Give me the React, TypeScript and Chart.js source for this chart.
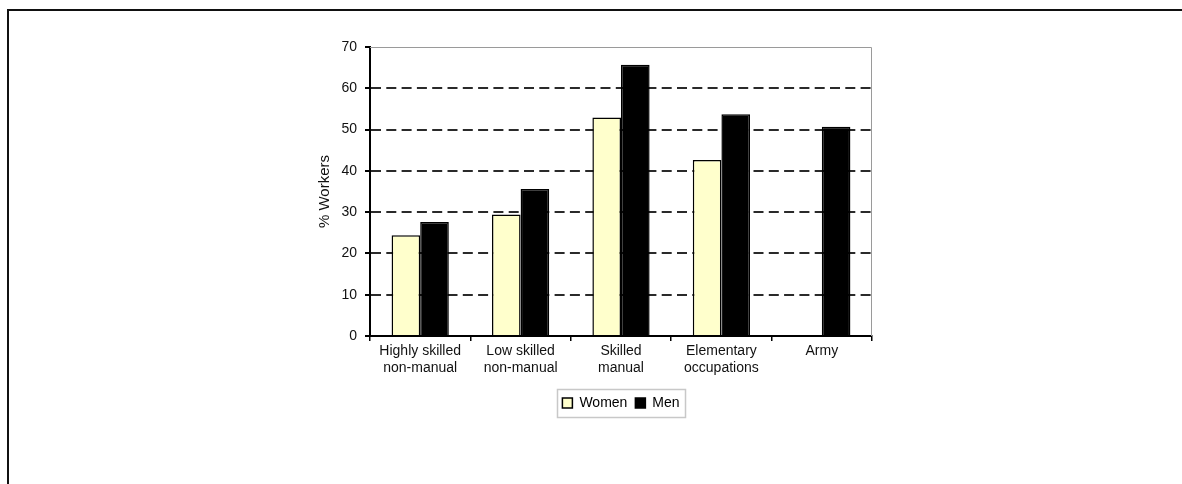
import React, { useEffect, useRef } from 'react';
import { Chart, registerables } from 'chart.js';

Chart.register(...registerables);

// Occupation groups (multi-line tick labels)
const categories: string[][] = [
  ['Highly skilled', 'non-manual'],
  ['Low skilled', 'non-manual'],
  ['Skilled', 'manual'],
  ['Elementary', 'occupations'],
  ['Army'],
];

// Share of workers (%) per group
const womenValues: (number | null)[] = [24.4, 29.4, 52.9, 42.6, null];
const menValues: number[] = [27.6, 35.6, 65.7, 53.7, 50.7];

// Value axis
const yMin = 0;
const yMax = 70;
const yStep = 10;

const FONT = "'Liberation Sans', Arial, Helvetica, sans-serif";

// Centres the legend under the plot area, draws a thin grey border along the
// top and right of the plot, and a box round the legend
const framePlugin = {
  id: 'plotFrame',
  afterLayout(chart: any) {
    const legend = chart.legend;
    if (!legend) return;
    const { left, right } = chart.chartArea;
    const delta = (left + right - (legend.left + legend.right)) / 2;
    legend.left = left;
    legend.right = right;
    if (legend.legendHitBoxes) {
      for (const hb of legend.legendHitBoxes) hb.left += delta;
    }
  },
  beforeDatasetsDraw(chart: any) {
    const { ctx, chartArea } = chart;
    ctx.save();
    ctx.strokeStyle = '#9a9a9a';
    ctx.lineWidth = 1;
    ctx.beginPath();
    ctx.moveTo(chartArea.left, chartArea.top + 0.5);
    ctx.lineTo(chartArea.right - 0.5, chartArea.top + 0.5);
    ctx.lineTo(chartArea.right - 0.5, chartArea.bottom);
    ctx.stroke();
    ctx.restore();
  },
  afterDraw(chart: any) {
    const legend = chart.legend;
    if (!legend || !legend.legendHitBoxes || !legend.legendHitBoxes.length) return;
    const boxes = legend.legendHitBoxes;
    let l = Infinity, r = -Infinity, t = Infinity, b = -Infinity;
    for (const h of boxes) {
      l = Math.min(l, h.left);
      r = Math.max(r, h.left + h.width);
      t = Math.min(t, h.top);
      b = Math.max(b, h.top + h.height);
    }
    const { ctx } = chart;
    ctx.save();
    ctx.strokeStyle = '#c8c8c8';
    ctx.lineWidth = 1.5;
    const x0 = Math.round(l - 5) + 0.5;
    const x1 = Math.round(r + 5) + 0.5;
    ctx.strokeRect(x0, Math.round(t - 7) + 0.5, x1 - x0, Math.round(b - t + 14));
    ctx.restore();
  },
};

function BarChart() {
  const canvasRef = useRef<HTMLCanvasElement | null>(null);

  useEffect(() => {
    const canvas = canvasRef.current;
    if (!canvas) return;
    Chart.defaults.font.family = FONT;
    const chart = new Chart(canvas, {
      type: 'bar',
      data: {
        labels: categories,
        datasets: [
          {
            label: 'Women',
            data: womenValues,
            backgroundColor: '#ffffcc',
            borderColor: '#000000',
            borderWidth: 1.5,
            categoryPercentage: 0.57,
            barPercentage: 1.0,
          },
          {
            label: 'Men',
            data: menValues,
            backgroundColor: '#000000',
            borderColor: '#000000',
            borderWidth: 1.5,
            categoryPercentage: 0.57,
            barPercentage: 1.0,
          },
        ],
      },
      options: {
        animation: false,
        responsive: false,
        maintainAspectRatio: false,
        layout: { padding: { top: 17, right: 28, left: 0, bottom: 10 } },
        plugins: {
          legend: {
            position: 'bottom',
            labels: {
              boxWidth: 10,
              boxHeight: 10,
              padding: 8,
              color: '#000',
              font: { size: 14, family: FONT },
            },
          },
          tooltip: { enabled: false },
        },
        scales: {
          x: {
            afterFit: (scale: any) => {
              scale.height = 52;
            },
            grid: {
              display: true,
              drawOnChartArea: false,
              drawTicks: true,
              tickLength: 5,
              offset: true,
              color: '#000',
              tickColor: '#000',
              lineWidth: 1.5,
            },
            border: { display: true, color: '#000', width: 2 },
            ticks: {
              color: '#111',
              padding: 2,
              maxRotation: 0,
              autoSkip: false,
              font: { size: 14, family: FONT },
            },
          },
          y: {
            min: yMin,
            max: yMax,
            afterFit: (scale: any) => {
              scale.width = 80;
            },
            grid: {
              drawTicks: true,
              tickLength: 5,
              color: (ctx: any) => {
                const v = ctx.tick ? ctx.tick.value : null;
                return v === yMin || v === yMax ? 'rgba(0,0,0,0)' : '#2a2a2a';
              },
              tickColor: '#000',
              lineWidth: 2,
              tickBorderDash: [],
            },
            border: { display: true, color: '#000', width: 2, dash: [10, 5.3] },
            ticks: {
              stepSize: yStep,
              color: '#111',
              padding: 8,
              font: { size: 14, family: FONT },
            },
            title: {
              display: true,
              text: '% Workers',
              color: '#111',
              padding: { top: 26, bottom: 0 },
              font: { size: 15, family: FONT },
            },
          },
        },
      },
      plugins: [framePlugin],
    });
    return () => chart.destroy();
  }, []);

  return (
    <canvas
      ref={canvasRef}
      width={610}
      height={400}
      style={{ position: 'absolute', left: 290, top: 30, width: 610, height: 400 }}
    />
  );
}

export default function App() {
  return (
    <div
      style={{
        position: 'fixed',
        left: 0,
        top: 0,
        width: 1182,
        height: 484,
        background: '#fff',
        overflow: 'hidden',
      }}
    >
      <div
        style={{
          position: 'absolute',
          left: 7,
          top: 9,
          right: -4,
          bottom: -4,
          borderTop: '2px solid #111',
          borderLeft: '2px solid #111',
        }}
      />
      <BarChart />
    </div>
  );
}
